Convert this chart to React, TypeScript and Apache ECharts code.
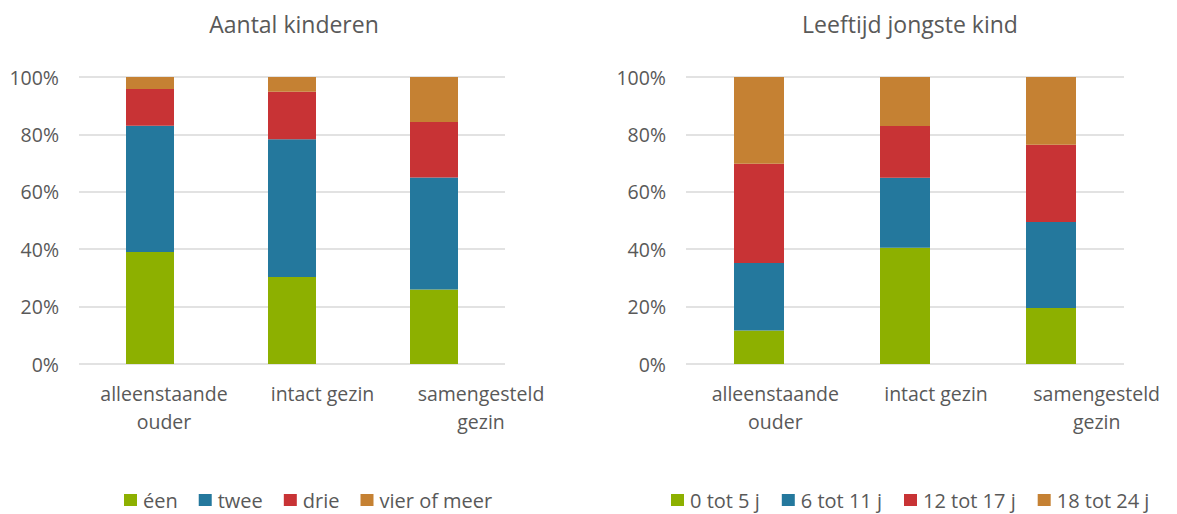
import React, { useEffect, useRef } from "react";
import * as echarts from "echarts";

const categories = ["alleenstaande\nouder", "intact gezin", "samengesteld\ngezin"];
const yTicks = [0, 20, 40, 60, 80, 100];

const leftTitle = "Aantal kinderen";
const leftNames = ["éen", "twee", "drie", "vier of meer"];
const leftEen = [39, 30.3, 26];
const leftTwee = [44, 48, 39];
const leftDrie = [12.8, 16.6, 19.3];
const leftVier = [4.2, 5.1, 15.7];

const rightTitle = "Leeftijd jongste kind";
const rightNames = ["0 tot 5 j", "6 tot 11 j", "12 tot 17 j", "18 tot 24 j"];
const right0to5 = [11.7, 40.5, 19.5];
const right6to11 = [23.5, 24.4, 30];
const right12to17 = [34.6, 18, 26.9];
const right18to24 = [30.2, 17.1, 23.6];

const colors = ["#8DB000", "#24789D", "#C83335", "#C58133"];
const FONT = "Open Sans";
const TXT = "#595959";

export default function App() {
  const ref = useRef<HTMLDivElement>(null);
  useEffect(() => {
    document.body.style.margin = "0";
    const chart = echarts.init(ref.current!, null, { renderer: "svg" });
    const leftData = [leftEen, leftTwee, leftDrie, leftVier];
    const rightData = [right0to5, right6to11, right12to17, right18to24];
    const xAxis = (gi: number, showLabel: boolean) => ({
      type: "category",
      gridIndex: gi,
      data: categories,
      axisLine: { show: false },
      axisTick: { show: false },
      axisLabel: { show: showLabel, color: TXT, fontFamily: FONT, fontSize: 19.5, lineHeight: 28, margin: 15, interval: 0 },
    });
    const yAxis = (gi: number, margin: number, show: boolean) => ({
      type: "value",
      gridIndex: gi,
      show,
      min: 0,
      max: 100,
      interval: 20,
      axisLine: { show: false },
      axisTick: { show: false },
      splitLine: { show, lineStyle: { color: "#D9D9D9", width: 1.5 } },
      axisLabel: {
        show,
        color: TXT,
        fontFamily: FONT,
        fontSize: 19.5,
        margin,
        formatter: (v: number) => (yTicks.includes(v) ? v + "%" : ""),
      },
    });
    const mk = (names: string[], data: number[][], gi: number, bw: number) =>
      names.map((n, i) => ({
        name: n,
        type: "bar",
        stack: "s" + gi,
        xAxisIndex: gi,
        yAxisIndex: gi,
        barWidth: bw,
        data: data[i],
        itemStyle: { color: colors[i] },
      }));
    const legend = (names: string[], left: number, gap: number) => ({
      data: names,
      left,
      top: 490,
      padding: 0,
      itemWidth: 13,
      itemHeight: 12,
      itemGap: gap,
      icon: "rect",
      textStyle: { color: TXT, fontFamily: FONT, fontSize: 20, lineHeight: 20, padding: [0, 0, 0, 1] },
    });
    const titleStyle = { color: TXT, fontFamily: FONT, fontSize: 23, fontWeight: "normal" };
    chart.setOption({
      animation: false,
      title: [
        { text: leftTitle, left: 289, textAlign: "center", top: 7, textStyle: titleStyle },
        { text: rightTitle, left: 905, textAlign: "center", top: 7, textStyle: titleStyle },
      ],
      legend: [legend(leftNames, 124, 21), legend(rightNames, 671, 22)],
      grid: [
        { left: 79, right: 672, top: 77, bottom: 150 },
        { left: 686, right: 53, top: 77, bottom: 150 },
        { left: 84.75, right: 616.75, top: 77, bottom: 150 },
        { left: 695, right: -1, top: 77, bottom: 150 },
      ],
      xAxis: [xAxis(0, false), xAxis(1, false), xAxis(2, true), xAxis(3, true)],
      yAxis: [yAxis(0, 20, true), yAxis(1, 20, true), yAxis(2, 20, false), yAxis(3, 20, false)],
      series: [...mk(leftNames, leftData, 0, 48), ...mk(rightNames, rightData, 1, 50)],
    });
    return () => chart.dispose();
  }, []);
  return <div ref={ref} style={{ width: 1177, height: 514 }} />;
}
